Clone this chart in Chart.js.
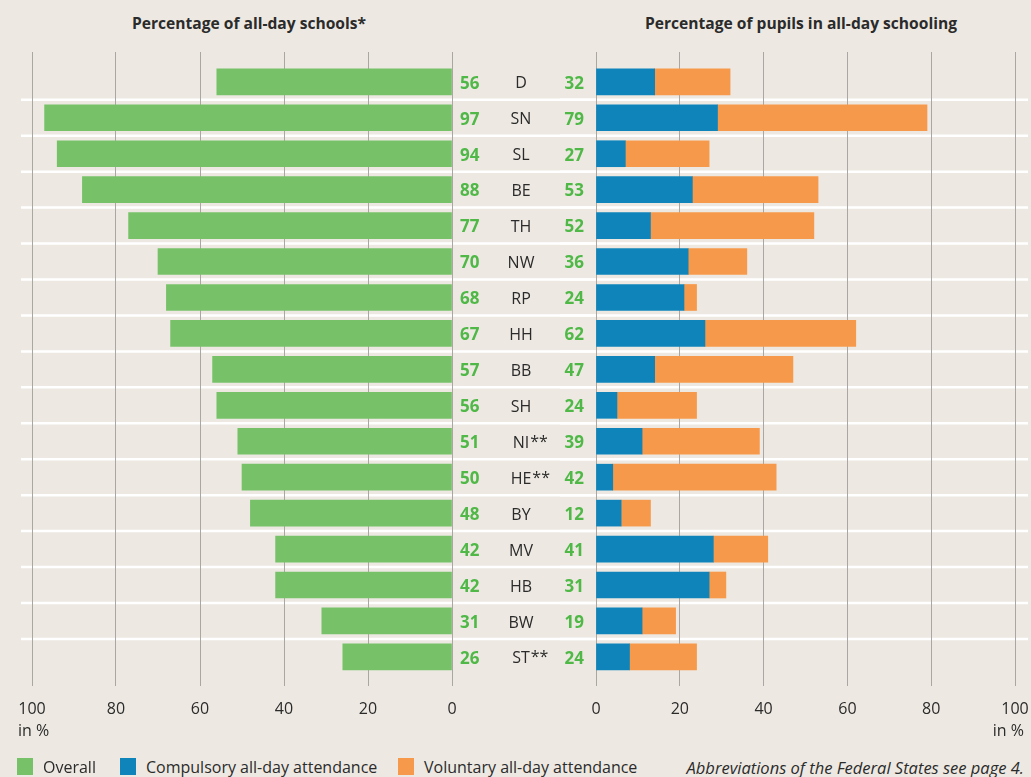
<!DOCTYPE html>
<html>
<head>
<meta charset="utf-8">
<script src="https://cdn.jsdelivr.net/npm/chart.js@4/dist/chart.umd.min.js"></script>
<style>
    body { margin: 0; background: #ede9e2; }
    #wrap { position: relative; width: 1031px; height: 777px; overflow: hidden; background: #ede9e2;
            font-family: "Open Sans", sans-serif; color: #2b2b2b; }
    #leftChart { position: absolute; left: 0; top: 0; }
    #rightChart { position: absolute; left: 560px; top: 0; }
    .title { position: absolute; top: 12px; font-weight: bold; font-size: 15.6px; white-space: nowrap; }
    .unit { position: absolute; top: 719px; font-size: 16px; }
    .legend { position: absolute; top: 757px; font-size: 16px; white-space: nowrap; line-height: 21px; }
    .legend span.box { display: inline-block; width: 16px; height: 17px; vertical-align: -2px; margin-right: 10px; }
    .note { position: absolute; top: 757px; right: 7px; font-size: 16.5px; font-style: italic; line-height: 21px; white-space: nowrap; }
</style>
</head>
<body>
<div id="wrap">
    <div class="title" style="left:0;width:498px;text-align:center;">Percentage of all-day schools*</div>
    <div class="title" style="left:596px;width:410px;text-align:center;">Percentage of pupils in all-day schooling</div>
    <canvas id="leftChart" width="596" height="740"></canvas>
    <canvas id="rightChart" width="491" height="740"></canvas>
    <div class="unit" style="left:18px;">in %</div>
    <div class="unit" style="right:7px;">in %</div>
    <div class="legend" style="left:17px;"><span class="box" style="background:#77c268"></span>Overall</div>
    <div class="legend" style="left:120px;"><span class="box" style="background:#0e84bb"></span>Compulsory all-day attendance</div>
    <div class="legend" style="left:398px;"><span class="box" style="background:#f7994a"></span>Voluntary all-day attendance</div>
    <div class="note">Abbreviations of the Federal States see page 4.</div>
</div>
<script>
// ------------------- Data -------------------
const states = ['D', 'SN', 'SL', 'BE', 'TH', 'NW', 'RP', 'HH', 'BB', 'SH', 'NI**', 'HE**', 'BY', 'MV', 'HB', 'BW', 'ST**'];
const overall = [56, 97, 94, 88, 77, 70, 68, 67, 57, 56, 51, 50, 48, 42, 42, 31, 26];
const pupilsTotal = [32, 79, 27, 53, 52, 36, 24, 62, 47, 24, 39, 42, 12, 41, 31, 19, 24];
const compulsory = [14, 29, 7, 23, 13, 22, 21, 26, 14, 5, 11, 4, 6, 28, 27, 11, 8];
const voluntary = [18, 50, 20, 30, 39, 14, 3, 36, 33, 19, 28, 39, 7, 13, 4, 8, 16];
const xTicks = [0, 20, 40, 60, 80, 100];

const GREEN = '#77c268';
const BLUE = '#0e84bb';
const ORANGE = '#f7994a';
const LABEL_GREEN = '#4fb847';
const GRID = '#aaa7a2';
const FONT = '"Open Sans", sans-serif';

Chart.defaults.font.family = FONT;
Chart.defaults.color = '#2b2b2b';

const toPoints = arr => arr.map((v, i) => ({ x: v, y: i }));

// white separators between rows, drawn under grid and bars
const rowLines = {
    id: 'rowLines',
    beforeDraw(chart, args, opts) {
        const { ctx } = chart;
        const y = chart.scales.y;
        ctx.save();
        ctx.strokeStyle = '#ffffff';
        ctx.lineWidth = 2.5;
        for (let i = 0; i < states.length - 1; i++) {
            const py = y.getPixelForValue(i + 0.5);
            ctx.beginPath();
            ctx.moveTo(opts.x0, py);
            ctx.lineTo(opts.x1, py);
            ctx.stroke();
        }
        ctx.restore();
    }
};

// values and state codes in the middle column
const centerLabels = {
    id: 'centerLabels',
    afterDatasetsDraw(chart) {
        const { ctx } = chart;
        const y = chart.scales.y;
        ctx.save();
        ctx.textBaseline = 'middle';
        states.forEach((s, i) => {
            const py = y.getPixelForValue(i) + 2;
            ctx.font = 'bold 17px ' + FONT;
            ctx.fillStyle = LABEL_GREEN;
            ctx.textAlign = 'left';
            ctx.fillText(String(overall[i]), 460, py);
            ctx.textAlign = 'right';
            ctx.fillText(String(pupilsTotal[i]), 584, py);

            ctx.font = '16px ' + FONT;
            ctx.fillStyle = '#2b2b2b';
            const code = s.replace(/\*+$/, '');
            const stars = s.slice(code.length);
            ctx.textAlign = 'center';
            ctx.fillText(code, 521, py);
            if (stars) {
                ctx.textAlign = 'left';
                ctx.fillText(stars, 521 + ctx.measureText(code).width / 2 + 1, py - 1);
            }
        });
        ctx.restore();
    }
};

function xScale(reverse) {
    return {
        type: 'linear',
        min: 0,
        max: 100,
        reverse: reverse,
        stacked: true,
        afterBuildTicks: axis => { axis.ticks = xTicks.map(v => ({ value: v })); },
        afterFit: axis => { axis.height = 54; },
        grid: { color: GRID, lineWidth: 1, drawTicks: false },
        border: { display: false },
        ticks: { padding: 14, font: { size: 16 }, color: '#2b2b2b' }
    };
}

const yScale = {
    type: 'linear',
    reverse: true,
    offset: false,
    min: -0.83,
    max: 16.81,
    stacked: true,
    display: false
};

const commonOptions = {
    indexAxis: 'y',
    responsive: false,
    animation: false,
    plugins: { legend: { display: false }, tooltip: { enabled: false } }
};

// ------------------- Left: all-day schools -------------------
new Chart(document.getElementById('leftChart').getContext('2d'), {
    type: 'bar',
    data: {
        datasets: [{
            label: 'Overall',
            data: toPoints(overall),
            backgroundColor: GREEN,
            barThickness: 26
        }]
    },
    options: {
        ...commonOptions,
        layout: { padding: { left: 32, right: 144, top: 52, bottom: 0 } },
        scales: { x: xScale(true), y: yScale },
        plugins: { ...commonOptions.plugins, rowLines: { x0: 21, x1: 596 } }
    },
    plugins: [rowLines, centerLabels]
});

// ------------------- Right: pupils in all-day schooling -------------------
new Chart(document.getElementById('rightChart').getContext('2d'), {
    type: 'bar',
    data: {
        datasets: [
            { label: 'Compulsory all-day attendance', data: toPoints(compulsory), backgroundColor: BLUE, barThickness: 26 },
            { label: 'Voluntary all-day attendance', data: toPoints(voluntary), backgroundColor: ORANGE, barThickness: 26 }
        ]
    },
    options: {
        ...commonOptions,
        layout: { padding: { left: 36, right: 36, top: 52, bottom: 0 } },
        scales: { x: xScale(false), y: yScale },
        plugins: { ...commonOptions.plugins, rowLines: { x0: 0, x1: 468 } }
    },
    plugins: [rowLines]
});
</script>
</body>
</html>
